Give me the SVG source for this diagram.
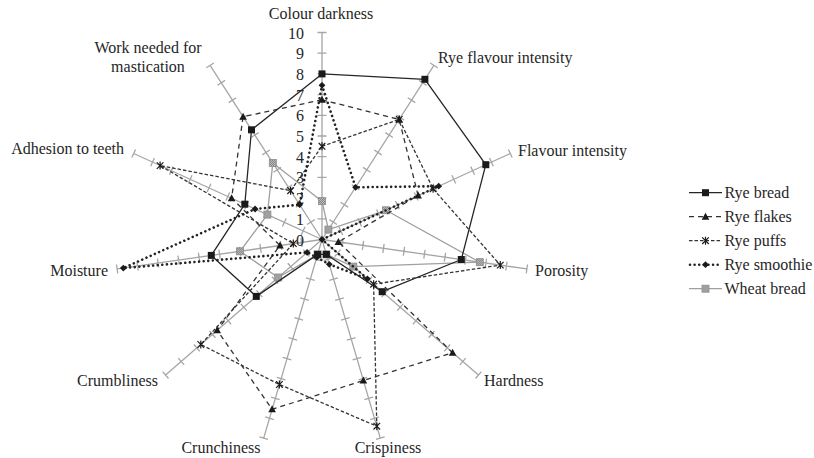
<svg xmlns="http://www.w3.org/2000/svg" xmlns:xlink="http://www.w3.org/1999/xlink" width="814" height="458" viewBox="0 0 814 458">
<style>
text{font-family:"Liberation Serif","Times New Roman",serif;font-size:16px;fill:#262626}
.ax{stroke:#a6a6a6;stroke-width:1.3;fill:none}
.s{fill:none;stroke-linejoin:round}
.rb{stroke:#262626;stroke-width:1.3}
.rf{stroke:#333;stroke-width:1.3;stroke-dasharray:5 4}
.rp{stroke:#333;stroke-width:1.3;stroke-dasharray:3.5 2}
.rs{stroke:#222;stroke-width:2.6;stroke-dasharray:0.01 4.6;stroke-linecap:round}
.wb{stroke:#a0a0a0;stroke-width:1.3}
.num{text-anchor:end}
</style>
<defs>
<pattern id="chk" width="2" height="2" patternUnits="userSpaceOnUse">
<rect width="2" height="2" fill="#d0d0d0"/>
<rect width="1" height="1" fill="#707070"/>
<rect x="1" y="1" width="1" height="1" fill="#707070"/>
</pattern>
<g id="axis" class="ax">
<path d="M322,239.5V32.5M317.5,218.8H326.5M317.5,198.1H326.5M317.5,177.4H326.5M317.5,156.7H326.5M317.5,136H326.5M317.5,115.3H326.5M317.5,94.6H326.5M317.5,73.9H326.5M317.5,53.2H326.5M317.5,32.5H326.5"/>
</g>
<rect id="msq" x="-3.5" y="-3.5" width="7" height="7" fill="#1a1a1a"/>
<polygon id="mtri" points="0,-4 3.8,3 -3.8,3" fill="#1a1a1a"/>
<path id="mstar" d="M-3.3,-3.3L3.3,3.3M-3.3,3.3L3.3,-3.3M0,-4V4" stroke="#1a1a1a" stroke-width="1.2" fill="none"/>
<polygon id="mdia" points="0,-3.4 3.4,0 0,3.4 -3.4,0" fill="#1a1a1a"/>
<rect id="mchk" x="-3.5" y="-3.5" width="7" height="7" fill="url(#chk)" stroke="#8c8c8c" stroke-width="0.8"/>
</defs>
<rect width="814" height="458" fill="#ffffff"/>

<g id="axes">
<use href="#axis"/>
<use href="#axis" transform="rotate(32.727 322 239.5)"/>
<use href="#axis" transform="rotate(65.455 322 239.5)"/>
<use href="#axis" transform="rotate(98.182 322 239.5)"/>
<use href="#axis" transform="rotate(130.909 322 239.5)"/>
<use href="#axis" transform="rotate(163.636 322 239.5)"/>
<use href="#axis" transform="rotate(196.364 322 239.5)"/>
<use href="#axis" transform="rotate(229.091 322 239.5)"/>
<use href="#axis" transform="rotate(261.818 322 239.5)"/>
<use href="#axis" transform="rotate(294.545 322 239.5)"/>
<use href="#axis" transform="rotate(327.273 322 239.5)"/>
</g>

<g id="scale">
<text class="num" x="304" y="245.5">0</text>
<text class="num" x="304" y="224.8">1</text>
<text class="num" x="304" y="204.1">2</text>
<text class="num" x="304" y="183.4">3</text>
<text class="num" x="304" y="162.7">4</text>
<text class="num" x="304" y="142">5</text>
<text class="num" x="304" y="121.3">6</text>
<text class="num" x="304" y="100.6">7</text>
<text class="num" x="304" y="79.9">8</text>
<text class="num" x="304" y="59.2">9</text>
<text class="num" x="304" y="38.5">10</text>
</g>

<g id="categories">
<text x="321" y="19" text-anchor="middle">Colour darkness</text>
<text x="438" y="63">Rye flavour intensity</text>
<text x="518" y="156">Flavour intensity</text>
<text x="535" y="276">Porosity</text>
<text x="484" y="386">Hardness</text>
<text x="388" y="453" text-anchor="middle">Crispiness</text>
<text x="221" y="453" text-anchor="middle">Crunchiness</text>
<text x="158" y="386" text-anchor="end">Crumbliness</text>
<text x="108" y="276" text-anchor="end">Moisture</text>
<text x="124" y="154" text-anchor="end">Adhesion to teeth</text>
<text x="148" y="53" text-anchor="middle">Work needed for</text>
<text x="148" y="72" text-anchor="middle">mastication</text>
</g>

<g id="series">
<g id="wheat-bread">
<polygon class="s wb" points="322,201.2 328.4,229.6 386,210.3 479.8,262.2 353.3,266.6 326.4,254.4 317.6,254.4 278.2,277.5 240,251.3 267.4,214.6 272.8,162.9"/>
<use href="#mchk" x="322" y="201.2"/><use href="#mchk" x="328.4" y="229.6"/><use href="#mchk" x="386" y="210.3"/><use href="#mchk" x="479.8" y="262.2"/><use href="#mchk" x="353.3" y="266.6"/><use href="#mchk" x="326.4" y="254.4"/><use href="#mchk" x="317.6" y="254.4"/><use href="#mchk" x="278.2" y="277.5"/><use href="#mchk" x="240" y="251.3"/><use href="#mchk" x="267.4" y="214.6"/><use href="#mchk" x="272.8" y="162.9"/>
</g>
<g id="rye-bread">
<polygon class="s rb" points="322,73.9 424.9,79.3 485.8,164.7 461.3,259.5 382.2,291.7 326.4,254.4 317.6,254.4 256.3,296.4 211.3,255.4 244.8,204.2 251.5,129.8"/>
<use href="#msq" x="322" y="73.9"/><use href="#msq" x="424.9" y="79.3"/><use href="#msq" x="485.8" y="164.7"/><use href="#msq" x="461.3" y="259.5"/><use href="#msq" x="382.2" y="291.7"/><use href="#msq" x="326.4" y="254.4"/><use href="#msq" x="317.6" y="254.4"/><use href="#msq" x="256.3" y="296.4"/><use href="#msq" x="211.3" y="255.4"/><use href="#msq" x="244.8" y="204.2"/><use href="#msq" x="251.5" y="129.8"/>
</g>
<g id="rye-flakes">
<polygon class="s rf" points="322,99.8 399.2,119.4 418.1,195.6 338.4,241.9 452.6,352.7 363.4,380.5 272.1,409.3 217.2,330.3 280,245.5 231.6,198.2 243.1,116.7"/>
<use href="#mtri" x="322" y="99.8"/><use href="#mtri" x="399.2" y="119.4"/><use href="#mtri" x="418.1" y="195.6"/><use href="#mtri" x="338.4" y="241.9"/><use href="#mtri" x="452.6" y="352.7"/><use href="#mtri" x="363.4" y="380.5"/><use href="#mtri" x="272.1" y="409.3"/><use href="#mtri" x="217.2" y="330.3"/><use href="#mtri" x="280" y="245.5"/><use href="#mtri" x="231.6" y="198.2"/><use href="#mtri" x="243.1" y="116.7"/>
</g>
<g id="rye-puffs">
<polygon class="s rp" points="322,146.3 399.2,119.4 433.1,188.8 500.3,265.1 373.6,284.2 376.8,426.2 279.4,384.5 200.8,344.5 293.3,243.6 160.1,165.6 290.6,190.7"/>
<use href="#mstar" x="322" y="146.3"/><use href="#mstar" x="399.2" y="119.4"/><use href="#mstar" x="433.1" y="188.8"/><use href="#mstar" x="500.3" y="265.1"/><use href="#mstar" x="373.6" y="284.2"/><use href="#mstar" x="376.8" y="426.2"/><use href="#mstar" x="279.4" y="384.5"/><use href="#mstar" x="200.8" y="344.5"/><use href="#mstar" x="293.3" y="243.6"/><use href="#mstar" x="160.1" y="165.6"/><use href="#mstar" x="290.6" y="190.7"/>
</g>
<g id="rye-smoothie">
<polygon class="s rs" points="322,85.3 355.6,187.3 438.7,186.2 322,239.5 367.4,278.8 329.3,264.3 316.8,257.4 307.1,252.4 123.3,268.1 255.1,209 299.6,204.7"/>
<use href="#mdia" x="322" y="85.3"/><use href="#mdia" x="355.6" y="187.3"/><use href="#mdia" x="438.7" y="186.2"/><use href="#mdia" x="322" y="239.5"/><use href="#mdia" x="367.4" y="278.8"/><use href="#mdia" x="329.3" y="264.3"/><use href="#mdia" x="316.8" y="257.4"/><use href="#mdia" x="307.1" y="252.4"/><use href="#mdia" x="123.3" y="268.1"/><use href="#mdia" x="255.1" y="209"/><use href="#mdia" x="299.6" y="204.7"/>
</g>
</g>

<g id="legend">
<g id="legend-rye-bread"><path class="s rb" d="M689,192.7H722"/><use href="#msq" x="705.5" y="192.7"/><text x="724.5" y="197.7">Rye bread</text></g>
<g id="legend-rye-flakes"><path class="s rf" d="M689,216.7H722"/><use href="#mtri" x="705.5" y="216.7"/><text x="724.5" y="221.7">Rye flakes</text></g>
<g id="legend-rye-puffs"><path class="s rp" d="M689,240.7H722"/><use href="#mstar" x="705.5" y="240.7"/><text x="724.5" y="245.7">Rye puffs</text></g>
<g id="legend-rye-smoothie"><path class="s rs" d="M690,264.7H722"/><use href="#mdia" x="705.5" y="264.7"/><text x="724.5" y="269.7">Rye smoothie</text></g>
<g id="legend-wheat-bread"><path class="s wb" d="M689,288.7H722"/><use href="#mchk" x="705.5" y="288.7"/><text x="724.5" y="293.7">Wheat bread</text></g>
</g>
</svg>
